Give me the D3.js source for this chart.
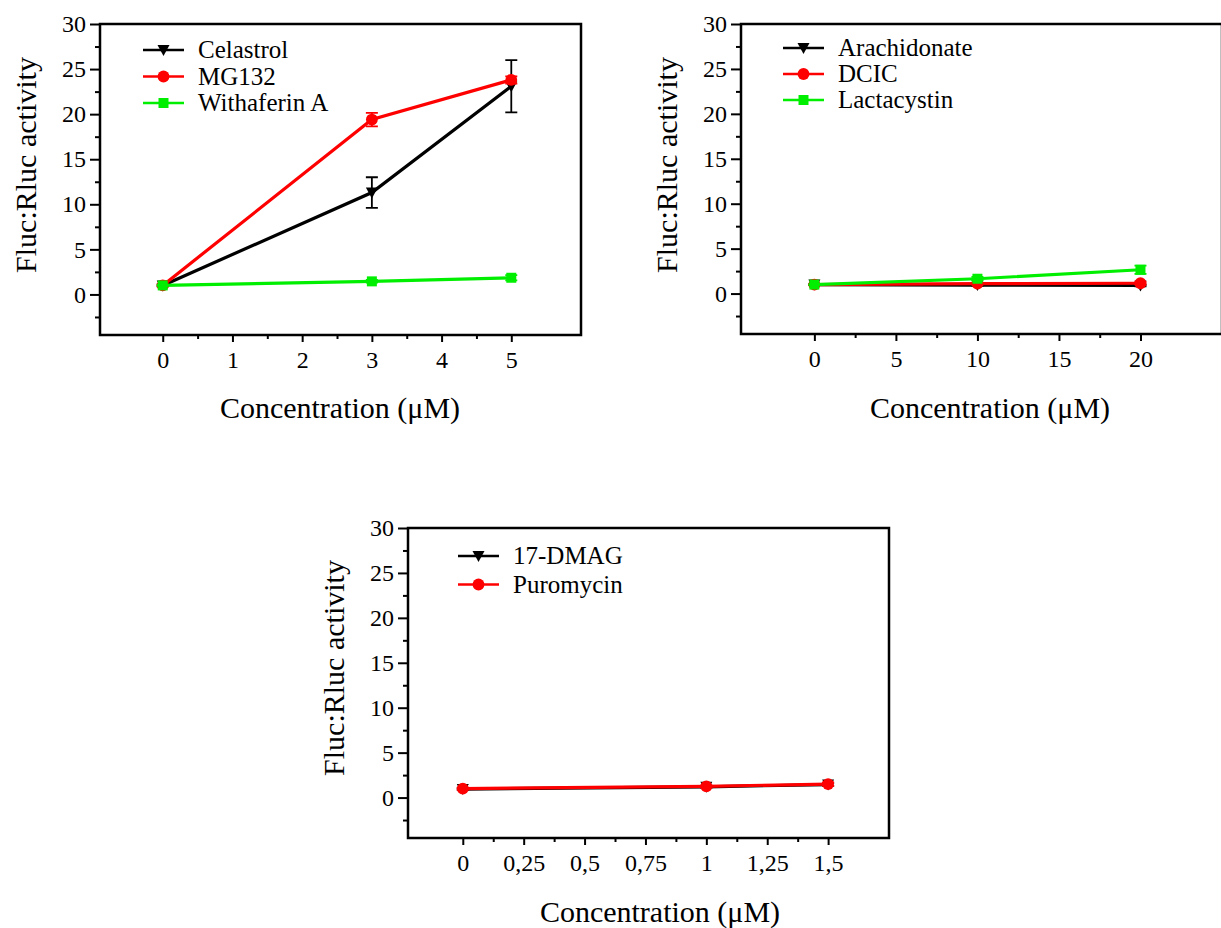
<!DOCTYPE html>
<html>
<head>
<meta charset="utf-8">
<title>Fluc:Rluc activity</title>
<style>
  body { margin: 0; background: #fff; }
  svg { display: block; font-family: "Liberation Serif", "Times New Roman", serif; }
  .axis-title { font-size: 30px; fill: #000; }
  .legend-text { font-size: 25px; fill: #000; }
</style>
</head>
<body>
<svg width="1221" height="928"></svg>
<script src="https://cdn.jsdelivr.net/npm/d3@7"></script>
<script>
// panel 1
const p1Conc = [0, 3, 5];
const celastrol = [1.0, 11.3, 23.1];
const celastrolErr = [0.1, 1.7, 2.9];
const mg132 = [1.0, 19.4, 23.8];
const mg132Err = [0.1, 0.75, 0.4];
const withaferin = [1.0, 1.45, 1.85];
const withaferinErr = [0.05, 0.15, 0.3];
const p1Ticks = [0, 1, 2, 3, 4, 5];

// panel 2
const p2Conc = [0, 10, 20];
const arachidonate = [1.0, 0.95, 0.9];
const arachidonateErr = [0.05, 0.1, 0.1];
const dcic = [1.0, 1.1, 1.15];
const dcicErr = [0.05, 0.1, 0.15];
const lactacystin = [1.0, 1.65, 2.65];
const lactacystinErr = [0.05, 0.2, 0.45];
const p2Ticks = [0, 5, 10, 15, 20];

// panel 3
const p3Conc = [0, 1, 1.5];
const dmag = [0.95, 1.2, 1.45];
const dmagErr = [0.1, 0.1, 0.15];
const puromycin = [1.0, 1.25, 1.5];
const puromycinErr = [0.1, 0.1, 0.2];
const p3Ticks = [0, 0.25, 0.5, 0.75, 1, 1.25, 1.5];
const p3TickLabels = ["0", "0,25", "0,5", "0,75", "1", "1,25", "1,5"];

const yTicks = [0, 5, 10, 15, 20, 25, 30];
const serif = '"Liberation Serif", "Times New Roman", serif';

const svg = d3.select("svg");

function cleanAxis(sel) {
  sel.attr("font-family", serif).attr("font-size", 24);
  sel.select(".domain").remove();
  sel.selectAll("line").attr("stroke-width", 2);
  sel.selectAll("text").attr("fill", "#000")
    .style("font-family", serif).style("font-size", "24px");
}

function drawPanel(cfg) {
  const g = svg.append("g");
  const x = d3.scaleLinear().domain(cfg.xDomain).range([cfg.left, cfg.right]);
  const y = d3.scaleLinear().domain([-4.5, 30]).range([cfg.bottom, cfg.top]);

  // frame
  g.append("path")
    .attr("d", `M${cfg.left},${cfg.top}H${cfg.right}V${cfg.bottom}H${cfg.left}Z`)
    .attr("fill", "none").attr("stroke", "#000").attr("stroke-width", 2.5);

  // y axis
  const yAx = d3.axisLeft(y).tickValues(yTicks).tickSize(10).tickPadding(4);
  g.append("g").attr("transform", `translate(${cfg.left},0)`).call(yAx).call(cleanAxis);
  const yMinor = d3.axisLeft(y).tickValues(d3.range(-2.5, 30, 5)).tickSize(5).tickFormat("");
  g.append("g").attr("transform", `translate(${cfg.left},0)`).call(yMinor).call(cleanAxis);

  // x axis
  const xAx = d3.axisBottom(x).tickValues(cfg.ticks).tickSize(7).tickPadding(9)
    .tickFormat((d, i) => cfg.tickLabels ? cfg.tickLabels[i] : d);
  g.append("g").attr("transform", `translate(0,${cfg.bottom})`).call(xAx).call(cleanAxis);
  const xMinor = d3.axisBottom(x).tickValues(cfg.minor).tickSize(4).tickFormat("");
  g.append("g").attr("transform", `translate(0,${cfg.bottom})`).call(xMinor).call(cleanAxis);

  // titles
  g.append("text").attr("class", "axis-title")
    .attr("x", cfg.xTitle[0]).attr("y", cfg.xTitle[1])
    .attr("text-anchor", "middle").text("Concentration (\u03bcM)");
  g.append("text").attr("class", "axis-title")
    .attr("transform", `translate(${cfg.yTitle[0]},${cfg.yTitle[1]}) rotate(-90)`)
    .attr("text-anchor", "middle").text("Fluc:Rluc activity");

  // series
  const line = d3.line().x(d => x(d.x)).y(d => y(d.y));
  cfg.series.forEach(s => {
    const pts = cfg.conc.map((c, i) => ({ x: c, y: s.values[i], e: s.err[i] }));
    const sg = g.append("g");
    pts.forEach(p => {
      const cap = 6;
      sg.append("path")
        .attr("d", `M${x(p.x)},${y(p.y - p.e)}V${y(p.y + p.e)}` +
          `M${x(p.x) - cap},${y(p.y - p.e)}H${x(p.x) + cap}` +
          `M${x(p.x) - cap},${y(p.y + p.e)}H${x(p.x) + cap}`)
        .attr("stroke", s.color).attr("stroke-width", 1.8).attr("fill", "none");
    });
    sg.append("path").datum(pts).attr("d", line)
      .attr("fill", "none").attr("stroke", s.color).attr("stroke-width", 3.2);
    sg.selectAll(".m").data(pts).enter().append("path")
      .attr("transform", d => `translate(${x(d.x)},${y(d.y)})`)
      .attr("d", marker(s.shape)).attr("fill", s.color);
  });

  // legend
  cfg.series.forEach((s, i) => {
    const ly = cfg.legend[1] + i * cfg.legendStep;
    const lx = cfg.legend[0];
    g.append("line").attr("x1", lx).attr("x2", lx + 41).attr("y1", ly).attr("y2", ly)
      .attr("stroke", s.color).attr("stroke-width", 2.5);
    g.append("path").attr("transform", `translate(${lx + 20.5},${ly})`)
      .attr("d", marker(s.shape)).attr("fill", s.color);
    g.append("text").attr("class", "legend-text")
      .attr("x", lx + 55).attr("y", ly).attr("dy", "0.33em").text(s.name);
  });
}

function marker(shape) {
  if (shape === "tri") return "M-6,-5L6,-5L0,6Z";
  if (shape === "sq") return "M-5,-5H5V5H-5Z";
  return d3.symbol(d3.symbolCircle, 110)();
}

drawPanel({
  left: 100, right: 581, top: 24, bottom: 335,
  xDomain: [-0.9, 6.0], ticks: p1Ticks, minor: d3.range(0.5, 5, 1),
  conc: p1Conc,
  xTitle: [340, 418], yTitle: [36, 165],
  legend: [143, 50], legendStep: 26.5,
  series: [
    { name: "Celastrol", values: celastrol, err: celastrolErr, color: "#000000", shape: "tri" },
    { name: "MG132", values: mg132, err: mg132Err, color: "#ff0000", shape: "circle" },
    { name: "Withaferin A", values: withaferin, err: withaferinErr, color: "#00ee00", shape: "sq" }
  ]
});

drawPanel({
  left: 741, right: 1222, top: 24, bottom: 334,
  xDomain: [-4.5, 25], ticks: p2Ticks, minor: d3.range(2.5, 20, 5),
  conc: p2Conc,
  xTitle: [990, 418], yTitle: [677, 165],
  legend: [783, 48], legendStep: 26,
  series: [
    { name: "Arachidonate", values: arachidonate, err: arachidonateErr, color: "#000000", shape: "tri" },
    { name: "DCIC", values: dcic, err: dcicErr, color: "#ff0000", shape: "circle" },
    { name: "Lactacystin", values: lactacystin, err: lactacystinErr, color: "#00ee00", shape: "sq" }
  ]
});

drawPanel({
  left: 408, right: 889, top: 528, bottom: 838,
  xDomain: [-0.225, 1.75], ticks: p3Ticks, tickLabels: p3TickLabels, minor: d3.range(0.125, 1.5, 0.25),
  conc: p3Conc,
  xTitle: [660, 922], yTitle: [344, 668],
  legend: [458, 556], legendStep: 28.5,
  series: [
    { name: "17-DMAG", values: dmag, err: dmagErr, color: "#000000", shape: "tri" },
    { name: "Puromycin", values: puromycin, err: puromycinErr, color: "#ff0000", shape: "circle" }
  ]
});
</script>
</body>
</html>
